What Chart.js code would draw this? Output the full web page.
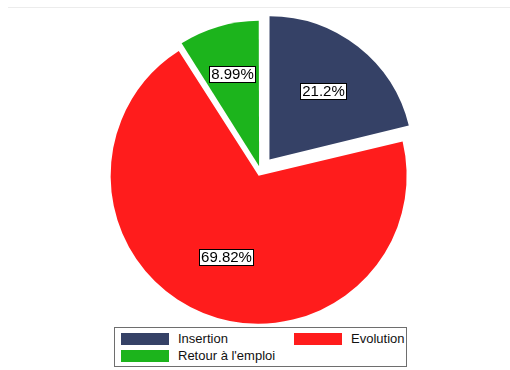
<!DOCTYPE html>
<html>
<head>
<meta charset="utf-8">
<script src="https://cdn.jsdelivr.net/npm/chart.js@4.4.0/dist/chart.umd.min.js"></script>
<style>
  body { margin: 0; background: #fff; font-family: "Liberation Sans", Arial, sans-serif; }
  #wrap { position: relative; width: 510px; height: 370px; overflow: hidden; }
  #frame { position: absolute; left: 8px; right: 0; top: 7px; border-top: 1px solid #ececec; }
  #legend { position: absolute; left: 114px; top: 327px; width: 291px; height: 38px; border: 1px solid #6e6e6e; background: #fff; }
  .item { position: absolute; height: 13px; display: flex; align-items: center; font-size: 13px; color: #111; white-space: nowrap; }
  .sw { width: 48px; height: 12px; margin-right: 9px; }
</style>
</head>
<body>
<div id="wrap">
  <div id="frame"></div>
  <canvas id="pie" width="510" height="370"></canvas>
  <div id="legend"></div>
</div>
<script>
// data
const categories = ['Insertion', 'Evolution', 'Retour à l\'emploi'];
const shares = [21.2, 69.82, 8.99];
const colors = ['#354166', '#ff1c1c', '#1cb41c'];

// explode amount per slice (chart.js offset, it moves offset/4 px)
const explode = [58, 20, 20];
// label distance from slice tip, as part of radius
const labelDist = [0.61, 0.61, 0.67];

const pctLabels = {
  id: 'pctLabels',
  afterDatasetsDraw(chart) {
    const ctx = chart.ctx;
    const meta = chart.getDatasetMeta(0);
    ctx.save();
    ctx.font = '15px "Liberation Sans", Arial, sans-serif';
    ctx.textAlign = 'center';
    ctx.textBaseline = 'middle';
    meta.data.forEach((arc, i) => {
      const mid = (arc.startAngle + arc.endAngle) / 2;
      const d = explode[i] / 4 + labelDist[i] * arc.outerRadius;
      const x = arc.x + Math.cos(mid) * d;
      const y = arc.y + Math.sin(mid) * d;
      const txt = shares[i] + '%';
      const w = Math.round(ctx.measureText(txt).width + 3);
      const h = 16;
      const left = Math.round(x - w / 2), top = Math.round(y - h / 2);
      ctx.fillStyle = '#fff';
      ctx.fillRect(left, top, w, h);
      ctx.strokeStyle = '#000';
      ctx.lineWidth = 1;
      ctx.strokeRect(left + 0.5, top + 0.5, w, h);
      ctx.fillStyle = '#000';
      ctx.fillText(txt, left + w / 2 + 0.5, top + h / 2 + 1);
    });
    ctx.restore();
  }
};

const chart = new Chart(document.getElementById('pie'), {
  type: 'pie',
  data: {
    labels: categories,
    datasets: [{
      data: shares,
      backgroundColor: colors,
      borderWidth: 0,
      offset: explode,
      radius: 143
    }]
  },
  options: {
    responsive: false,
    animation: false,
    events: [],
    layout: { padding: { left: 11, bottom: 28 } },
    plugins: {
      legend: { display: false },
      tooltip: { enabled: false }
    }
  },
  plugins: [pctLabels]
});

// legend box, two columns
const legend = document.getElementById('legend');
categories.forEach((name, i) => {
  const col = i % 2, row = Math.floor(i / 2);
  const it = document.createElement('div');
  it.className = 'item';
  it.style.left = (6 + col * 173) + 'px';
  it.style.top = (4 + row * 17) + 'px';
  it.innerHTML = '<span class="sw" style="background:' + colors[i] + '"></span>' + name;
  legend.appendChild(it);
});
</script>
</body>
</html>
